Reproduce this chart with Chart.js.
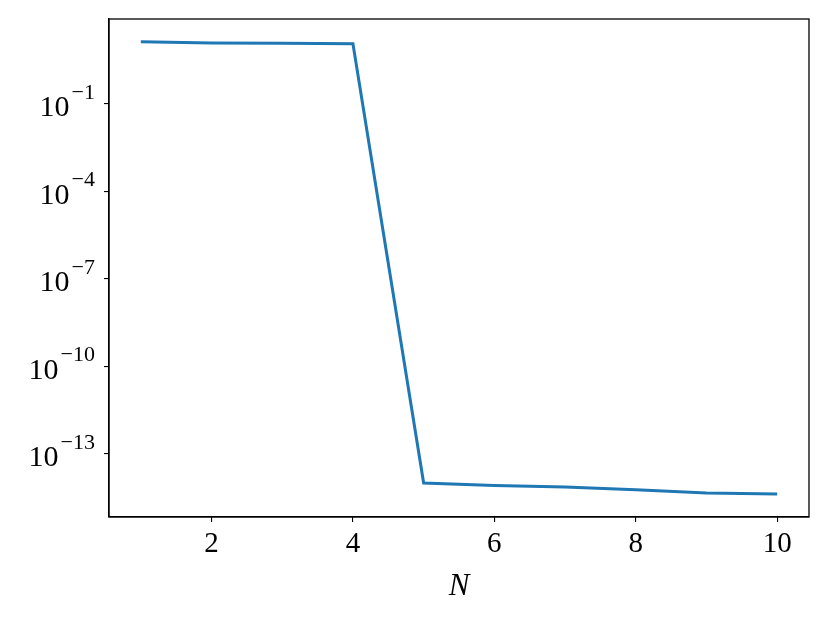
<!DOCTYPE html>
<html lang="en">
<head>
  <meta charset="UTF-8" />
  <title>Error vs N</title>
  <script src="https://cdn.jsdelivr.net/npm/chart.js"></script>
  <style>
    body { margin: 0; background: white; }
    #wrap { width: 830px; height: 623px; }
  </style>
</head>
<body>
  <div id="wrap"><canvas id="chart" width="830" height="623"></canvas></div>

  <script>
    const nValues = [1, 2, 3, 4, 5, 6, 7, 8, 9, 10];
    const errValues = [13.3, 12.0, 11.8, 11.4, 9.9e-15, 8.2e-15, 7.2e-15, 5.8e-15, 4.5e-15, 4.15e-15];
    const xTicks = [2, 4, 6, 8, 10];
    const yExponents = [-1, -4, -7, -10, -13];

    const serif = "'Liberation Serif', 'DejaVu Serif', serif";

    // box around the plot area
    const frame = {
      id: 'frame',
      afterDraw(chart) {
        const { ctx, chartArea: a } = chart;
        ctx.save();
        ctx.strokeStyle = '#000';
        ctx.lineWidth = 1.3;
        ctx.strokeRect(a.left, a.top, a.right - a.left, a.bottom - a.top);
        ctx.restore();
      }
    };

    // 10^e labels for the log axis
    const powLabels = {
      id: 'powLabels',
      afterDraw(chart) {
        const { ctx } = chart;
        const y = chart.scales.y;
        ctx.save();
        ctx.fillStyle = '#000';
        yExponents.forEach(e => {
          const py = y.getPixelForValue(Math.pow(10, e));
          const right = 95;
          ctx.font = '22px ' + serif;
          ctx.textAlign = 'right';
          ctx.textBaseline = 'alphabetic';
          const exp = '\u2212' + Math.abs(e);
          ctx.fillText(exp, right, py - 5);
          const w = ctx.measureText(exp).width;
          ctx.font = '30px ' + serif;
          ctx.fillText('10', right - w - 2, py + 12.7);
        });
        ctx.restore();
      }
    };

    new Chart(document.getElementById('chart'), {
      type: 'line',
      data: {
        datasets: [{
          data: nValues.map((n, i) => ({ x: n, y: errValues[i] })),
          borderColor: '#1f77b4',
          borderWidth: 3,
          pointRadius: 0,
          tension: 0,
          fill: false
        }]
      },
      options: {
        responsive: false,
        animation: false,
        layout: { padding: { top: 19, right: 21, left: 0, bottom: 0 } },
        plugins: { legend: { display: false }, tooltip: { enabled: false } },
        scales: {
          x: {
            type: 'linear',
            min: 0.55,
            max: 10.45,
            afterBuildTicks: s => { s.ticks = xTicks.map(v => ({ value: v })); },
            afterFit: s => { s.height = 106; },
            grid: { display: true, drawOnChartArea: false, drawTicks: true, tickLength: 5, color: '#000', lineWidth: 1.1 },
            border: { display: true, color: '#000', width: 1.3 },
            ticks: { color: '#000', font: { family: serif, size: 29 }, padding: 5, maxRotation: 0 },
            title: { display: true, text: 'N', color: '#000', font: { family: serif, size: 31, style: 'italic' }, padding: { top: 0, bottom: 18 } }
          },
          y: {
            type: 'logarithmic',
            min: 6.76e-16,
            max: 80.2,
            afterBuildTicks: s => { s.ticks = yExponents.map(e => ({ value: Math.pow(10, e) })); },
            afterFit: s => { s.width = 109; },
            grid: { display: true, drawOnChartArea: false, drawTicks: true, tickLength: 5, color: '#000', lineWidth: 1.1 },
            border: { display: true, color: '#000', width: 1.3 },
            ticks: { color: 'rgba(0,0,0,0)', callback: () => '' }
          }
        }
      },
      plugins: [frame, powLabels]
    });
  </script>
</body>
</html>
